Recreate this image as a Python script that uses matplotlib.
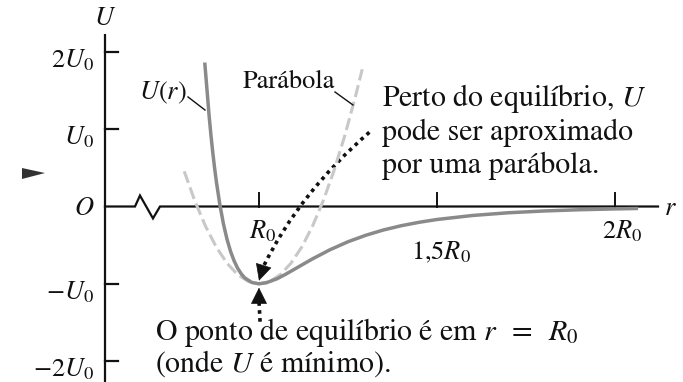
import numpy as np
import matplotlib
matplotlib.use("Agg")
import matplotlib.pyplot as plt
from matplotlib.path import Path
from matplotlib.patches import PathPatch, FancyArrowPatch

plt.rcParams['font.family'] = 'STIXGeneral'
plt.rcParams['mathtext.fontset'] = 'stix'

# potential energy U(r)/U0 against r/R0
r_curve = [0.848, 0.855, 0.86, 0.865, 0.87, 0.875, 0.88, 0.89, 0.90, 0.91, 0.92,
           0.93, 0.94, 0.95, 0.96, 0.98, 1.00, 1.02, 1.05, 1.075, 1.10, 1.15,
           1.20, 1.25, 1.30, 1.35, 1.40, 1.45, 1.50, 1.60, 1.70, 1.80, 1.90,
           2.00, 2.06]
U_curve = [1.84, 1.45, 1.167, 0.924, 0.706, 0.508, 0.329, 0.025, -0.2225, -0.421,
           -0.579, -0.702, -0.798, -0.870, -0.923, -0.983, -1.0, -0.987, -0.936,
           -0.876, -0.810, -0.678, -0.558, -0.456, -0.372, -0.303, -0.248,
           -0.204, -0.168, -0.116, -0.081, -0.058, -0.042, -0.031, -0.026]

# parabola fitted at the minimum
r_par = [0.79, 0.82, 0.85, 0.88, 0.91, 0.94, 0.97, 1.00, 1.03, 1.06, 1.09,
         1.12, 1.15, 1.18, 1.21, 1.24, 1.27, 1.29]
U_par = [0.455, 0.069, -0.2575, -0.525, -0.733, -0.881, -0.970, -1.0, -0.970,
         -0.881, -0.733, -0.525, -0.258, 0.069, 0.455, 0.901, 1.406, 1.775]

y_ticks = [2, 1, -1, -2]
y_labels = [r'$2U_0$', r'$U_0$', r'$-U_0$', r'$-2U_0$']
x_ticks = [1.0, 1.5, 2.0]
x_labels = [r'$R_0$', r'1,5$R_0$', r'$2R_0$']

fig = plt.figure(figsize=(6.83, 3.82), dpi=100)
ax = fig.add_axes([0, 0, 1, 1])
ax.set_xlim(0.2725, 2.191)
ax.set_ylim(-2.270, 2.671)
ax.axis('off')

ink = '#111111'
fs = 19     # axis labels
fn = 21.5   # notes
x_axis0 = 0.5674   # where the U axis sits
x_end = 2.1208

# axes with the break on r
ax.plot([x_axis0, x_axis0], [-2.3, 2.226], color=ink, lw=1.6, solid_capstyle='butt')
ax.plot([x_axis0, 0.6517, 0.6657, 0.7022, 0.7219, x_end],
        [0, 0, 0.142, -0.154, 0, 0], color=ink, lw=1.6, solid_joinstyle='miter')
for yt, lab in zip(y_ticks, y_labels):
    ax.plot([x_axis0, x_axis0 + 0.0365], [yt, yt], color=ink, lw=1.6)
    ax.text(0.5365, yt - 0.2, lab, ha='right', va='baseline', fontsize=fs, color=ink)
ax.text(0.5365, -0.11, r'$O$', ha='right', va='baseline', fontsize=fs, color=ink)
ax.text(x_axis0, 2.35, r'$U$', ha='center', va='baseline', fontsize=fs, color=ink)

lab_y = [-0.41, -0.69, -0.41]
lab_x = [1.011, 1.511, 2.02]
for xt, lab, lx, ly in zip(x_ticks, x_labels, lab_x, lab_y):
    ax.plot([xt, xt], [0, 0.181], color=ink, lw=1.4)
    ax.text(lx, ly, lab, ha='center', va='baseline', fontsize=fs, color=ink)
ax.text(2.137, -0.11, r'$r$', ha='left', va='baseline', fontsize=fs, color=ink)

# curves
ax.plot(r_par, U_par, color='#c8c8c8', lw=2.2, dashes=(4, 1.6))
ax.plot(r_curve, U_curve, color='#8a8a8a', lw=2.5)

# curve labels with leader lines
ax.text(0.7978, 1.391, r'$U(r)$', ha='right', va='baseline', fontsize=fs, color=ink)
ax.plot([0.8006, 0.8483], [1.417, 1.248], color=ink, lw=1.0)
ax.text(0.955, 1.533, 'Parábola', ha='left', va='baseline', fontsize=fs, color=ink)
ax.plot([1.2135, 1.264], [1.481, 1.313], color=ink, lw=1.0)

# notes
ax.text(1.3455, 1.30, 'Perto do equilíbrio, $U$', fontsize=fn, color=ink, va='baseline')
ax.text(1.3455, 0.86, 'pode ser aproximado', fontsize=fn, color=ink, va='baseline')
ax.text(1.3455, 0.43, 'por uma parábola.', fontsize=fn, color=ink, va='baseline')
ax.text(0.708, -1.727, 'O ponto de equilíbrio é em $r\\;\\;=\\;\\;R_0$', fontsize=fn,
        color=ink, va='baseline')
ax.text(0.708, -2.14, '(onde $U$ é mínimo).', fontsize=fn, color=ink, va='baseline')

# dotted pointers to the minimum
dots = dict(color=ink, lw=2.6, linestyle=(0, (1, 1.2)), fill=False)
p_start, p_ctrl, p_end = (1.31, 0.96), (1.114, 0.18), (1.012, -0.78)
ax.add_patch(PathPatch(Path([p_start, p_ctrl, p_end],
                            [Path.MOVETO, Path.CURVE3, Path.CURVE3]), **dots))
head = dict(arrowstyle='-|>,head_length=0.6,head_width=0.3', mutation_scale=18,
            color=ink, lw=0.5, shrinkA=0, shrinkB=0)
ax.add_patch(FancyArrowPatch(p_end, (1.0, -0.96), **head))

ax.plot([1.003, 1.0], [-1.49, -1.22], color=ink, lw=2.6, dashes=(1, 1.2),
        dash_capstyle='butt')
ax.add_patch(FancyArrowPatch((1.0, -1.23), (1.0, -1.05), **head))

# small dark wedge at the left edge
ax.fill([0.3343, 0.3343, 0.3989], [0.498, 0.356, 0.433], color='#333333', lw=0)

fig.savefig('out.png', dpi=100, facecolor='white')
